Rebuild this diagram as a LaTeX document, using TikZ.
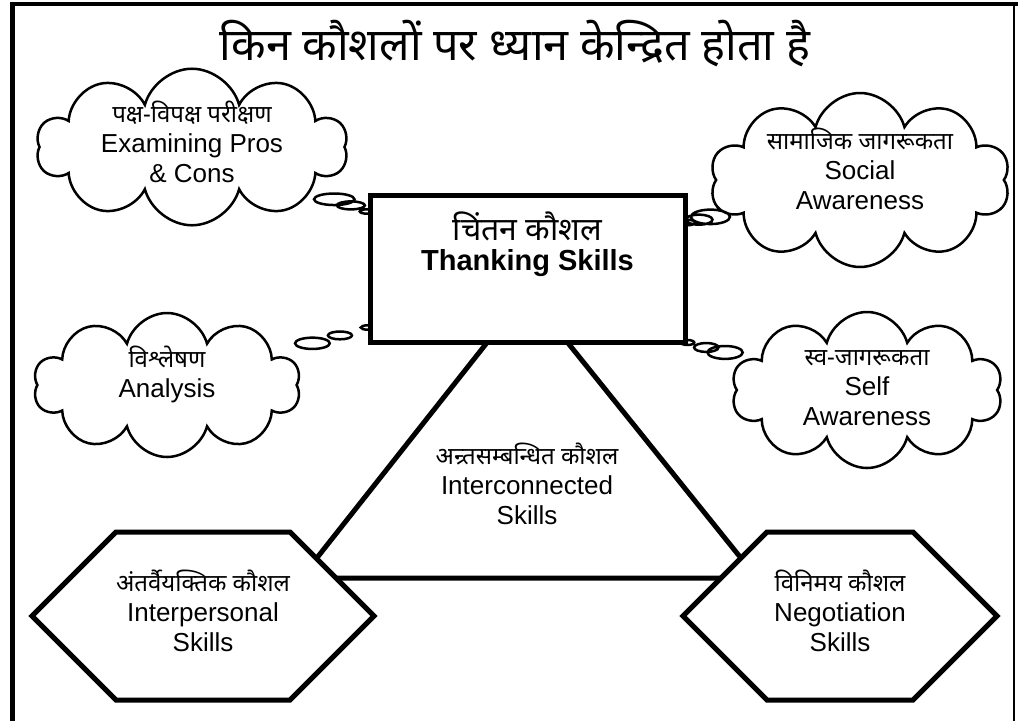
\documentclass[tikz,border=0pt]{standalone}
\usepackage{fontspec}
\setmainfont{Liberation Sans}
\newfontfamily\hindi[Script=Devanagari]{Noto Sans}
\usetikzlibrary{shapes.callouts,shapes.symbols,backgrounds}
\newcommand{\hindtext}[1]{{\hindi\fontsize{24}{28}\selectfont #1}}

\begin{document}
\begin{tikzpicture}[x=1pt,y=-1pt,
    every node/.style={align=center,font=\fontsize{26}{30}\selectfont},
    thought/.style={cloud callout,draw,fill=white,line width=2.5pt,cloud puffs=10,
        cloud ignores aspect,inner sep=0pt,text height=70pt,text depth=-12pt,
        callout pointer segments=3,
        callout pointer start size=.17 of callout,callout pointer end size=.05 of callout},
    hexa/.style={signal,signal to=west and east,signal pointer angle=90,draw,fill=white,
        line width=5pt,minimum height=168pt,inner sep=0pt},
    link/.style={line width=5pt,line join=miter}]
    \useasboundingbox (0,0) rectangle (1018,721);
    \draw[line width=5pt] (12,721) -- (12,2);
    \draw[line width=4pt] (10,4) -- (1018,4);
    \draw[line width=1.5pt] (1014,4) -- (1014,721);
    \node (title) at (515,44) {\hindi\fontsize{45}{50}\selectfont किन कौशलों पर ध्यान केन्द्रित होता है};
    \coordinate (apex) at (527,292);
    \coordinate (base l) at (301,578);
    \coordinate (base r) at (757,578);
    \draw[link] (apex) -- (base l) -- (base r) -- cycle;
    \node[draw,fill=white,line width=5pt,minimum width=315pt,minimum height=147pt] (think) at (527.5,268.5)
        {{\hindi\bfseries\fontsize{32}{36}\selectfont चिंतन कौशल}\\ \textbf{\fontsize{29}{34}\selectfont Thanking Skills}\rule[-55pt]{0pt}{1pt}};
    \begin{scope}[on background layer]
        \node[thought,minimum width=311pt,minimum height=143pt,text height=71pt,text depth=-13pt,
            callout absolute pointer={([yshift=-19pt]think.north west)}] (pros) at (192,147)
            {\hindtext{पक्ष-विपक्ष परीक्षण}\\ Examining Pros\\ \& Cons};
        \node[thought,minimum width=267pt,minimum height=144pt,text height=30pt,text depth=6pt,
            callout absolute pointer={([yshift=17pt]think.south west)}] (analysis) at (167,385)
            {\hindtext{विश्लेषण}\\ Analysis};
        \node[thought,minimum width=300pt,minimum height=174pt,text height=60pt,text depth=1pt,
            callout absolute pointer={([yshift=-30pt]think.north east)}] (social) at (860,180)
            {\hindtext{सामाजिक जागरूकता}\\ Social\\ Awareness};
        \node[thought,minimum width=271pt,minimum height=156pt,
            callout absolute pointer={([yshift=2pt]think.south east)}] (self) at (867,390)
            {\hindtext{स्व-जागरूकता}\\ Self\\ Awareness};
    \end{scope}
    \node (mesh) at (527,484) {\hindtext{अन्र्तसम्बन्धित कौशल}\\ Interconnected\\ Skills};
    \node[hexa,minimum width=340pt] (inter) at (203,616) {\hindtext{अंतर्वैयक्तिक कौशल}\\ Interpersonal\\ Skills\rule[-10pt]{0pt}{1pt}};
    \node[hexa,minimum width=314pt] (nego) at (840,616) {\hindtext{विनिमय कौशल}\\ Negotiation\\ Skills\rule[-10pt]{0pt}{1pt}};
\end{tikzpicture}
\end{document}
